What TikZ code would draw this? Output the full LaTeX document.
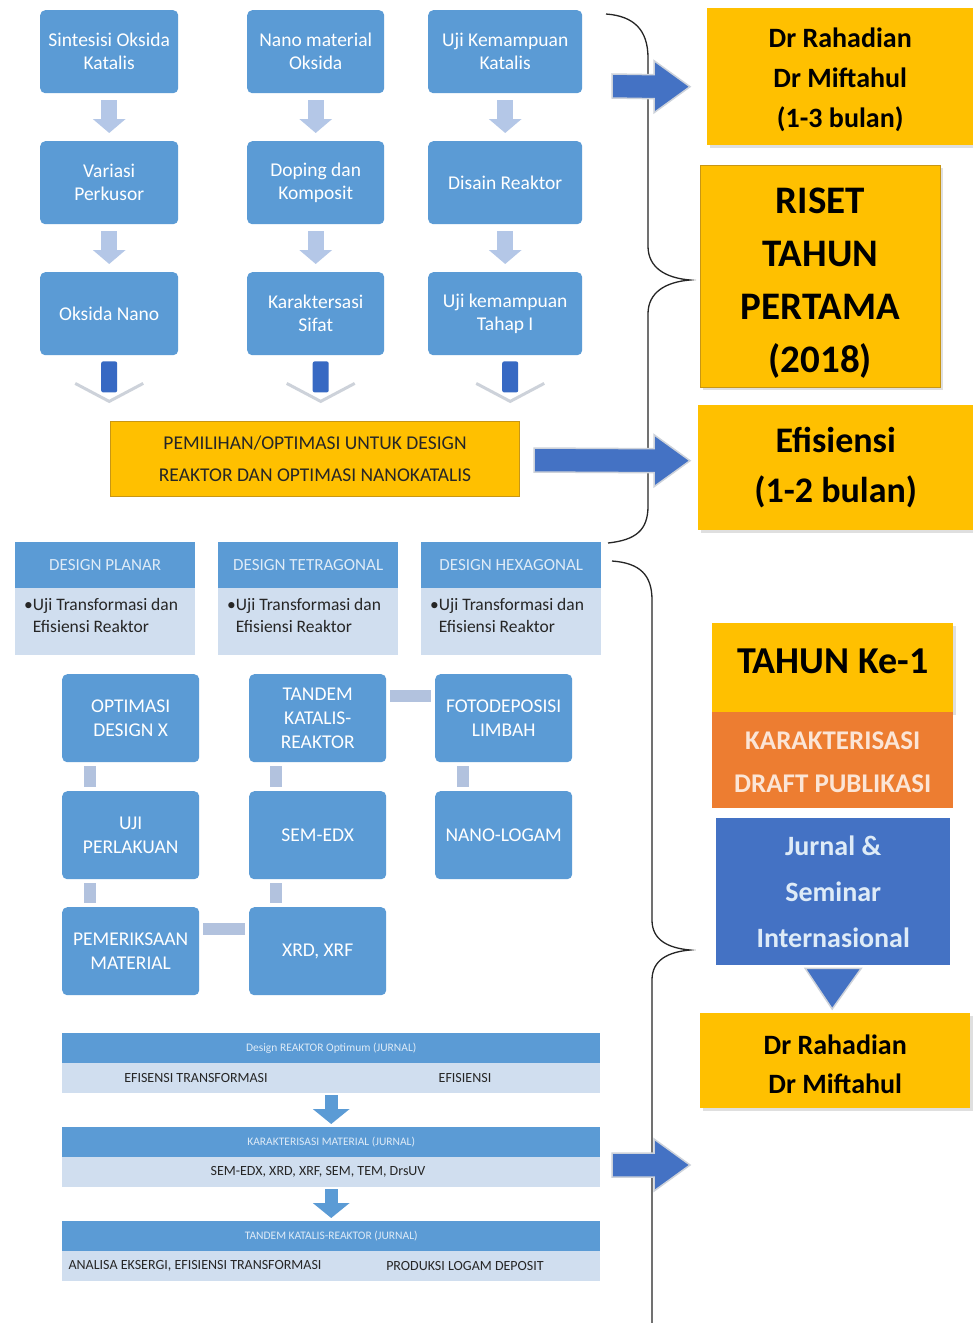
\documentclass[tikz,border=0pt]{standalone}
\usepackage{fontspec}
\setmainfont{Carlito}
\usetikzlibrary{arrows.meta,shadows,calc}
\definecolor{boxblue}{RGB}{91,155,213}
\definecolor{lightarr}{RGB}{180,199,231}
\definecolor{connbar}{RGB}{178,194,222}
\definecolor{gold}{RGB}{255,192,0}
\definecolor{goldedge}{RGB}{200,150,20}
\definecolor{orangebox}{RGB}{237,125,49}
\definecolor{dblue}{RGB}{68,114,196}
\definecolor{stemblue}{RGB}{55,105,195}
\definecolor{tbody}{RGB}{208,222,239}
\definecolor{chevgray}{RGB}{205,210,218}
\definecolor{darktext}{RGB}{38,38,38}
\definecolor{cream}{RGB}{251,229,214}
\definecolor{paleblue}{RGB}{222,235,247}
\newcommand\myfs[2]{\fontsize{#1}{#2}\selectfont}
\newcommand\rblock[2]{%
  \path[bigarrow] ($(#1)+(0,-12)$) -- ($(#2)+(-36,-12)$) -- ($(#2)+(-36,-26)$) -- (#2)
    -- ($(#2)+(-36,26)$) -- ($(#2)+(-36,12)$) -- ($(#1)+(0,12)$) -- cycle;}
\begin{document}
\begin{tikzpicture}[x=1pt,y=-1pt,
  pbox/.style={fill=boxblue, rounded corners=5pt, text=white, align=center,
    font=\myfs{19.5}{23}, inner sep=2pt, anchor=north west},
  qbox/.style={fill=boxblue, rounded corners=5pt, text=white, align=center,
    font=\myfs{19.5}{24}, inner sep=2pt, anchor=north west,
    minimum width=137, minimum height=88},
  larrow/.style={draw=lightarr, line width=16pt, -{Triangle[width=32pt,length=14pt]}},
  tarrow/.style={draw=boxblue, line width=13pt, -{Triangle[width=36pt,length=15pt]}},
  connv/.style={draw=connbar, line width=12pt},
  chev/.style={draw=chevgray, line width=3pt, line join=miter},
  stem/.style={fill=stemblue, rounded corners=2pt},
  obox/.style={fill=gold, draw=goldedge, line width=1pt, text=darktext, align=center,
    font=\myfs{19.5}{32}, anchor=north west, inner sep=2pt},
  goldbox/.style={fill=gold, text=black, align=center, font=\bfseries, anchor=north west,
    inner sep=2pt, drop shadow={opacity=0.25, shadow xshift=3pt, shadow yshift=-3pt}},
  bigarrow/.style={fill=dblue, draw=chevgray, line width=1.5pt},
  brace/.style={draw=black!85, line width=1.3pt},
  dhead/.style={fill=boxblue, text=paleblue, font=\myfs{17}{20}, anchor=north west,
    minimum width=180, minimum height=46, inner sep=1pt},
  dbody/.style={fill=tbody, anchor=north west, minimum width=180, minimum height=67, inner sep=0pt},
  dtext/.style={anchor=north west, align=left, text=darktext, font=\myfs{17.5}{22}, inner sep=0pt},
  thead/.style={fill=boxblue, text=paleblue, font=\myfs{11.5}{13}, anchor=north west,
    minimum width=538, minimum height=30, inner sep=1pt},
  tbodyst/.style={fill=tbody, anchor=north west, minimum width=538, minimum height=30, inner sep=0pt},
  tbtext/.style={text=darktext, font=\myfs{14}{16}, inner sep=1pt},
]
\useasboundingbox (0,0) rectangle (973,1323);
\fill[white] (0,0) rectangle (973,1323);

% ---------- braces (behind the arrows) ----------
\draw[brace] (606,14) .. controls (634,16) and (648,30) .. (648,58) -- (648,246)
  .. controls (648,268) and (666,278) .. (690,280)
  .. controls (666,282) and (648,292) .. (648,314) -- (648,506)
  .. controls (648,530) and (636,540) .. (608,543);
\draw[brace] (612,561) .. controls (640,563) and (652,575) .. (652,600) -- (652,920)
  .. controls (652,940) and (668,948) .. (690,950)
  .. controls (668,952) and (652,960) .. (652,980) -- (652,1323);

% ---------- top section ----------
\node[pbox, minimum width=138, minimum height=83] (t11) at (40,10) {Sintesisi Oksida\\Katalis};
\node[pbox, minimum width=138, minimum height=83] (t12) at (40,141) {Variasi\\Perkusor};
\node[pbox, minimum width=138, minimum height=83] (t13) at (40,272) {Oksida Nano};
\node[pbox, minimum width=137, minimum height=83] (t21) at (247,10) {Nano material\\Oksida};
\node[pbox, minimum width=137, minimum height=83] (t22) at (247,141) {Doping dan\\Komposit};
\node[pbox, minimum width=137, minimum height=83] (t23) at (247,272) {Karaktersasi\\Sifat};
\node[pbox, minimum width=154, minimum height=83] (t31) at (428,10) {Uji Kemampuan\\Katalis};
\node[pbox, minimum width=154, minimum height=83] (t32) at (428,141) {Disain Reaktor};
\node[pbox, minimum width=154, minimum height=83] (t33) at (428,272) {Uji kemampuan\\Tahap I};

\foreach \a/\b in {t11/t12,t12/t13,t21/t22,t22/t23,t31/t32,t32/t33}
  \draw[larrow] ([yshift=-7pt]\a.south) -- ([yshift=8pt]\b.north);

% chevron arrows below third row
\foreach \n/\dx in {t13/0,t23/5,t33/5}{
  \draw[chev] ($(\n.south)+(\dx-34,28)$) -- ($(\n.south)+(\dx,46)$) -- ($(\n.south)+(\dx+34,28)$);
  \path[stem] ($(\n.south)+(\dx-8,6)$) rectangle ($(\n.south)+(\dx+8,37)$);
}

\node[obox, minimum width=409, minimum height=75] (sel) at (110,421)
  {PEMILIHAN/OPTIMASI UNTUK DESIGN\\REAKTOR DAN OPTIMASI NANOKATALIS};

% ---------- right column, first part ----------
\node[goldbox, font=\bfseries\myfs{28}{40}, minimum width=266, minimum height=137] (dr1) at (707,8)
  {\rule{0pt}{26pt}Dr Rahadian\\Dr Miftahul\\(1-3 bulan)};
\node[goldbox, draw=goldedge, line width=0.8pt, font=\bfseries\myfs{39}{53}, minimum width=240, minimum height=222] (riset) at (700,165)
  {\rule{0pt}{39pt}RISET\\TAHUN\\PERTAMA\\(2018)};
\node[goldbox, font=\bfseries\myfs{36}{50}, minimum width=275, minimum height=125] (efis) at (698,405)
  {Efisiensi\\(1-2 bulan)};

\coordinate (a1s) at (612,86);
\coordinate (a1e) at ($(dr1.west)+(-17,10)$);
\rblock{a1s}{a1e}
\coordinate (a2s) at ($(sel.east)+(14,1)$);
\coordinate (a2e) at ($(efis.west)+(-8,-7)$);
\rblock{a2s}{a2e}

% ---------- design tables ----------
\foreach \i/\x/\t in {1/15/DESIGN PLANAR,2/218/DESIGN TETRAGONAL,3/421/DESIGN HEXAGONAL}{
  \node[dhead] (dh\i) at (\x,542) {\t};
  \node[dbody] (db\i) at (\x,588) {};
  \node[dtext] (dt\i) at ($(db\i.north west)+(9,10)$)
    {\textbullet Uji Transformasi dan\\\hphantom{\textbullet}Efisiensi Reaktor};
}

% ---------- process grid ----------
\node[qbox] (a1) at (62,674) {OPTIMASI\\DESIGN X};
\node[qbox] (a2) at (62,791) {UJI\\PERLAKUAN};
\node[qbox] (a3) at (62,907) {PEMERIKSAAN\\MATERIAL};
\node[qbox] (b1) at (249,674) {TANDEM\\KATALIS-\\REAKTOR};
\node[qbox] (b2) at (249,791) {SEM-EDX};
\node[qbox] (b3) at (249,907) {XRD, XRF};
\node[qbox] (c1) at (435,674) {FOTODEPOSISI\\LIMBAH};
\node[qbox] (c2) at (435,791) {NANO-LOGAM};

\draw[connv] ([xshift=28pt,yshift=-4pt]a1.south west) -- ([xshift=28pt,yshift=4pt]a2.north west);
\draw[connv] ([xshift=28pt,yshift=-4pt]a2.south west) -- ([xshift=28pt,yshift=4pt]a3.north west);
\draw[connv] ([xshift=27pt,yshift=-4pt]b1.south west) -- ([xshift=27pt,yshift=4pt]b2.north west);
\draw[connv] ([xshift=27pt,yshift=-4pt]b2.south west) -- ([xshift=27pt,yshift=4pt]b3.north west);
\draw[connv] ([xshift=28pt,yshift=-4pt]c1.south west) -- ([xshift=28pt,yshift=4pt]c2.north west);
\draw[connv] ([xshift=4pt,yshift=-22pt]b1.north east) -- ([xshift=-4pt,yshift=-22pt]c1.north west);
\draw[connv] ([xshift=4pt,yshift=-22pt]a3.north east) -- ([xshift=-4pt,yshift=-22pt]b3.north west);

% ---------- bottom tables ----------
\node[thead] (h1) at (62,1033) {Design REAKTOR Optimum (JURNAL)};
\node[tbodyst] (bb1) at (62,1063) {};
\node[tbtext] (bb1l) at (196,1078) {EFISENSI TRANSFORMASI};
\node[tbtext] (bb1r) at (465,1078) {EFISIENSI};
\node[thead] (h2) at (62,1127) {KARAKTERISASI MATERIAL (JURNAL)};
\node[tbodyst] (bb2) at (62,1157) {};
\node[tbtext] (bb2c) at (318,1172) {SEM-EDX, XRD, XRF, SEM, TEM, DrsUV};
\node[thead] (h3) at (62,1221) {TANDEM KATALIS-REAKTOR (JURNAL)};
\node[tbodyst] (bb3) at (62,1251) {};
\node[tbtext] (bb3l) at (195,1266) {ANALISA EKSERGI, EFISIENSI TRANSFORMASI};
\node[tbtext] (bb3r) at (465,1266) {PRODUKSI LOGAM DEPOSIT};

\draw[tarrow] ([yshift=-2pt]bb1.south) -- ([yshift=3pt]h2.north);
\draw[tarrow] ([yshift=-2pt]bb2.south) -- ([yshift=3pt]h3.north);

\coordinate (a3s) at (612,1165);
\coordinate (a3e) at (690,1165);
\rblock{a3s}{a3e}

% ---------- right column, second part ----------
\node[goldbox, drop shadow={opacity=0}, font=\bfseries\myfs{38}{44}, minimum width=241, minimum height=89] (tahun) at (712,623) {\rule[-14pt]{0pt}{14pt}TAHUN Ke-1};
\node[fill=orangebox, text=cream, align=center, font=\bfseries\myfs{27}{43}, anchor=north west,
  minimum width=241, minimum height=96, inner sep=2pt] (kar) at (712,712)
  {\rule{0pt}{22pt}KARAKTERISASI\\DRAFT PUBLIKASI};
\node[fill=dblue, text=paleblue, align=center, font=\bfseries\myfs{28}{46}, anchor=north west,
  minimum width=234, minimum height=147, inner sep=2pt] (jur) at (716,818)
  {Jurnal \&\\Seminar\\Internasional};
\node[goldbox, font=\bfseries\myfs{28}{39}, minimum width=270, minimum height=95] (dr2) at (700,1013)
  {\rule{0pt}{26pt}Dr Rahadian\\Dr Miftahul};
\path[bigarrow] ($(jur.south)+(-28,3)$) -- ($(jur.south)+(28,3)$) -- ($(dr2.north)+(-3,-4)$) -- cycle;
\end{tikzpicture}
\end{document}
